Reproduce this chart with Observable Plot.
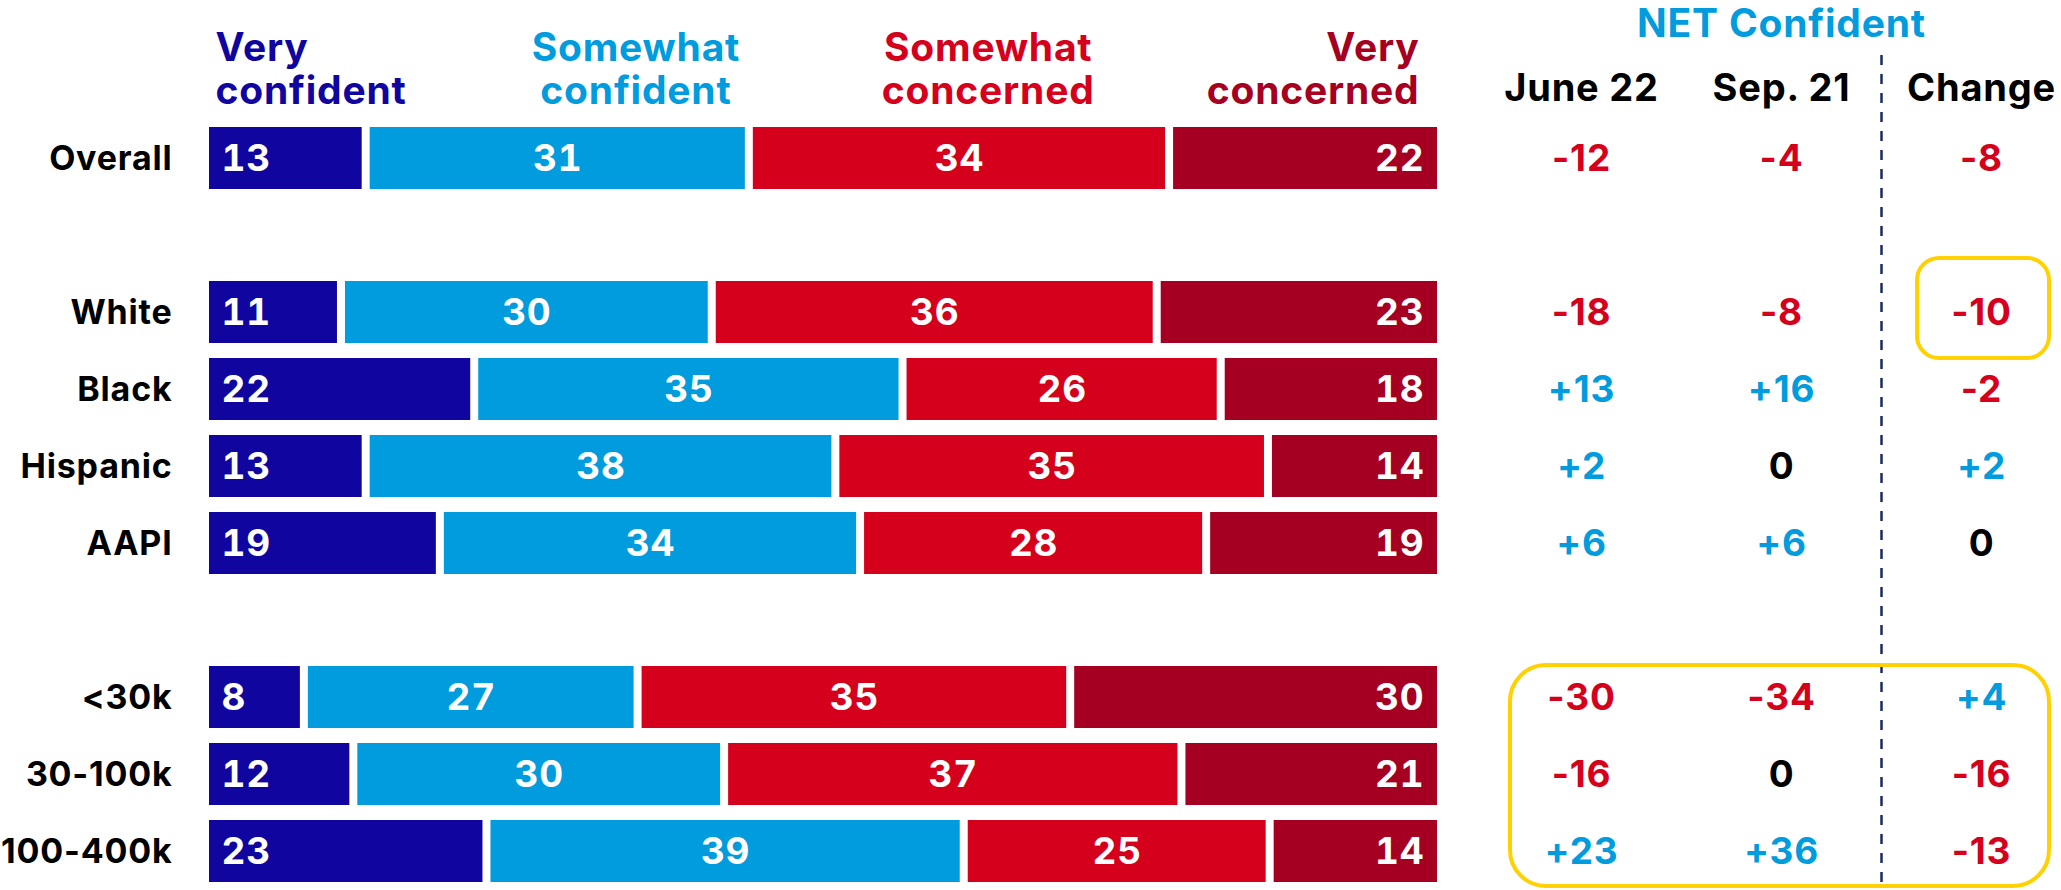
<!DOCTYPE html>
<html>
<head>
<meta charset="utf-8">
<script src="https://cdn.jsdelivr.net/npm/d3@7"></script>
<script src="https://cdn.jsdelivr.net/npm/@observablehq/plot@0.6"></script>
<style>
  html, body { margin: 0; padding: 0; background: #ffffff; }
  #chart { display: flex; width: 2061px; height: 890px; overflow: hidden; }
  #chart svg { display: block; flex: none; }
</style>
</head>
<body>
<div id="chart"></div>
<script>
// ---------- data ----------
const groups = ["Overall", "White", "Black", "Hispanic", "AAPI", "<30k", "30-100k", "100-400k"];
const rowSlots = ["Overall", "gap1", "White", "Black", "Hispanic", "AAPI", "gap2", "<30k", "30-100k", "100-400k"];
const categories = ["Very confident", "Somewhat confident", "Somewhat concerned", "Very concerned"];
const headerLabels = ["Very\nconfident", "Somewhat\nconfident", "Somewhat\nconcerned", "Very\nconcerned"];

const veryConfident     = [13, 11, 22, 13, 19,  8, 12, 23];
const somewhatConfident = [31, 30, 35, 38, 34, 27, 30, 39];
const somewhatConcerned = [34, 36, 26, 35, 28, 35, 37, 25];
const veryConcerned     = [22, 23, 18, 14, 19, 30, 21, 14];

const netColumns = ["June 22", "Sep. 21", "Change"];
const netJune22  = [-12, -18, 13, 2, 6, -30, -16, 23];
const netSep21   = [ -4,  -8, 16, 0, 6, -34,   0, 36];
const netChange  = [ -8, -10, -2, 2, 0,   4, -16, -13];

// ---------- styling ----------
const catColors = ["#10069F", "#009CDE", "#D5001C", "#A50021"];
const posColor = "#009CDE", negColor = "#D5001C", zeroColor = "#000000";
const FONT = "Inter, 'DejaVu Sans', sans-serif";

// ---------- derived tables ----------
const seriesValues = [veryConfident, somewhatConfident, somewhatConcerned, veryConcerned];
const segments = [];
groups.forEach((g, gi) => {
  const total = d3.sum(seriesValues, s => s[gi]);
  let cum = 0;
  seriesValues.forEach((s, k) => {
    const v = s[gi];
    segments.push({group: g, cat: categories[k], k, value: v, x1: cum / total * 100, x2: (cum + v) / total * 100});
    cum += v;
  });
});

const netSeries = [netJune22, netSep21, netChange];
const netRows = [];
groups.forEach((g, gi) => {
  netSeries.forEach((s, c) => netRows.push({group: g, col: c, value: s[gi]}));
});
const fmtNet = v => v > 0 ? "+" + v : String(v);
const colNet = v => v > 0 ? posColor : v < 0 ? negColor : zeroColor;

const yScale = {type: "band", domain: rowSlots, range: [117, 892], paddingInner: 0.2, paddingOuter: 0.1, axis: null};
const svgStyle = {fontFamily: FONT, background: "transparent", letterSpacing: "0.8px"};

// ---------- left: stacked bars ----------
const headerText = (xv, i, anchor, dx) => Plot.text([xv], {
  x: d => d, text: () => headerLabels[i], frameAnchor: "top", textAnchor: anchor, dx, dy: 30, lineAnchor: "top",
  lineHeight: 1.1, fill: catColors[i], fontSize: 39, fontWeight: 700, fontFamily: FONT
});

const left = Plot.plot({
  width: 1460, height: 890,
  marginLeft: 209, marginRight: 15, marginTop: 0, marginBottom: 0,
  style: svgStyle,
  x: {domain: [0, 100], range: [209, 1445], axis: null},
  y: yScale,
  color: {domain: categories, range: catColors},
  marks: [
    Plot.barX(segments, {x1: "x1", x2: "x2", y: "group", fill: "cat", insetRight: 8}),
    Plot.text(segments.filter(d => d.k === 0), {x: "x1", y: "group", text: d => d.value, textAnchor: "start", dx: 12, dy: 1,
      fill: "white", fontSize: 37, fontWeight: 700, fontFamily: FONT}),
    Plot.text(segments.filter(d => d.k === 1 || d.k === 2), {x: d => (d.x1 + d.x2) / 2, y: "group", text: d => d.value, textAnchor: "middle", dx: -4, dy: 1,
      fill: "white", fontSize: 37, fontWeight: 700, fontFamily: FONT}),
    Plot.text(segments.filter(d => d.k === 3), {x: "x2", y: "group", text: d => d.value, textAnchor: "end", dx: -21, dy: 1,
      fill: "white", fontSize: 37, fontWeight: 700, fontFamily: FONT}),
    // row labels
    Plot.text(groups, {y: d => d, text: d => d, frameAnchor: "left", textAnchor: "end", dx: -37, dy: 1,
      fill: "black", fontSize: 34, fontWeight: 700, fontFamily: FONT}),
    // column headers (legend)
    headerText(0, 0, "start", 6),
    headerText(34.5, 1, "middle", 0),
    headerText(63, 2, "middle", 0),
    headerText(100, 3, "end", -26)
  ]
});

// ---------- right: NET confident table ----------
const highlights = [
  {r1: "White", r2: "White", c1: 1.68, c2: 2.34, padTop: 23, padBottom: 15, radius: 22},
  {r1: "<30k", r2: "100-400k", c1: -0.355, c2: 2.34, padTop: 1, padBottom: 4, radius: 36}
];
const highlightMark = (box) => (index, scales) => {
  const {x, y} = scales;
  const bw = typeof y.bandwidth === "function" ? y.bandwidth() : y.bandwidth;
  const X0 = x(box.c1), X1 = x(box.c2);
  const Y0 = y(box.r1) - box.padTop, Y1 = y(box.r2) + bw + box.padBottom;
  return d3.create("svg:rect")
    .attr("x", X0).attr("y", Y0)
    .attr("width", X1 - X0).attr("height", Y1 - Y0)
    .attr("rx", box.radius).attr("ry", box.radius)
    .attr("fill", "none").attr("stroke", "#FFD100").attr("stroke-width", 4)
    .node();
};

const right = Plot.plot({
  width: 601, height: 890,
  marginLeft: 0, marginRight: 0, marginTop: 55, marginBottom: 0,
  style: svgStyle,
  x: {domain: [-0.5, 2.5], range: [21, 621], axis: null},
  y: yScale,
  marks: [
    Plot.ruleX([netColumns.indexOf("Change") - 0.5], {stroke: "#1B2A63", strokeWidth: 2.5, strokeDasharray: "10,9"}),
    ...highlights.map(highlightMark),
    Plot.text(netRows, {x: "col", y: "group", text: d => fmtNet(d.value), fill: d => colNet(d.value), dy: 1,
      fontSize: 37, fontWeight: 700, fontFamily: FONT}),
    Plot.text(netColumns, {x: (d, i) => i, text: d => d, frameAnchor: "top", lineAnchor: "top", dy: 19,
      fill: "black", fontSize: 38, fontWeight: 700, fontFamily: FONT}),
    Plot.text(["NET Confident"], {x: () => netColumns.indexOf("Sep. 21"), text: d => d, frameAnchor: "top", lineAnchor: "top", dy: -46,
      fill: posColor, fontSize: 39, fontWeight: 700, fontFamily: FONT})
  ]
});

document.getElementById("chart").append(left, right);
</script>
</body>
</html>
